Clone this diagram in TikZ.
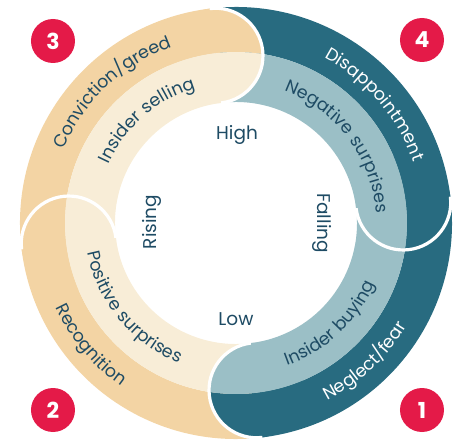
\documentclass[tikz,border=0pt]{standalone}
\usepackage{fontspec}
\setmainfont{Poppins}
\usetikzlibrary{decorations.text}

\definecolor{ochre}{HTML}{F3D4A4}
\definecolor{cream}{HTML}{F8EDD7}
\definecolor{petrol}{HTML}{286B80}
\definecolor{mist}{HTML}{9BBFC6}
\definecolor{ink}{HTML}{1E4B64}
\definecolor{signal}{HTML}{E41A48}

\newcommand\bandfont{\fontsize{17.5}{17.5}\selectfont\addfontfeature{LetterSpace=2.5}}

% annular sector: colour, from angle, to angle, inner radius, outer radius (pt)
\newcommand\ringband[5]{%
  \fill[#1] ({#2}:#5pt) arc[start angle={#2}, end angle={#3}, radius=#5pt]
    -- ({#3}:#4pt) arc[start angle={#3}, end angle={#2}, radius=#4pt] -- cycle;}

% one quarter of the cycle, running 90 degrees clockwise from #3
\newcommand\ringsegment[3]{%
  \ringband{#1}{#3}{#3-90}{171}{216}%
  \ringband{#2}{#3}{#3-90}{121}{171}}

% rounded leading end of a segment, sitting on the start of the next one
\newcommand\segmenthead[3]{%
  \begin{scope}
    \clip (#3:168.5pt) circle[radius=47.5pt];
    \ringband{#1}{#3+30}{#3-30}{171}{218}%
    \ringband{#2}{#3+30}{#3-30}{118}{171}%
  \end{scope}
  \draw[white, line width=3.2pt] (#3:168.5pt) ++(#3:47.5pt)
    arc[start angle=#3, end angle=#3-180, radius=47.5pt];}

% curved labels: upper half reads clockwise, lower half anticlockwise
\newcommand\toptext[4]{%
  \path[decorate, decoration={text along path, text align=center,
      text color=#1, text={|\bandfont|#4}}]
    ({#2+60}:#3pt) arc[start angle={#2+60}, end angle={#2-60}, radius=#3pt];}
\newcommand\bottomtext[4]{%
  \path[decorate, decoration={text along path, text align=center,
      text color=#1, text={|\bandfont|#4}}]
    ({#2-60}:#3pt) arc[start angle={#2-60}, end angle={#2+60}, radius=#3pt];}

\tikzset{
  badge/.style={circle, fill=signal, text=white, minimum size=44pt, inner sep=0pt,
    font=\fontsize{22}{22}\selectfont\bfseries},
  midlabel/.style={text=ink, inner sep=0pt, font=\fontsize{18.5}{18.5}\selectfont},
}

\begin{document}
\begin{tikzpicture}
\useasboundingbox (-236pt,-219pt) rectangle (225pt,223pt);

% bodies of the four segments
\ringsegment{petrol}{mist}{97}   % 4
\ringsegment{petrol}{mist}{7}    % 1
\ringsegment{ochre}{cream}{-83}  % 2
\ringsegment{ochre}{cream}{187}  % 3

% rounded heads
\segmenthead{petrol}{mist}{7}
\segmenthead{petrol}{mist}{-83}
\segmenthead{ochre}{cream}{187}
\segmenthead{ochre}{cream}{97}

% band labels
\toptext{ink}{133.5}{187.5}{Conviction/greed}
\toptext{ink}{131}{140.5}{Insider selling}
\toptext{white}{40.5}{187.5}{Disappointment}
\toptext{ink}{37}{140.5}{Negative surprises}
\bottomtext{white}{-47}{199.5}{Neglect/fear}
\bottomtext{ink}{-47}{151.5}{Insider buying}
\bottomtext{ink}{220}{199.5}{Recognition}
\bottomtext{ink}{219.5}{151.5}{Positive surprises}

% inner labels
\node[midlabel, anchor=base] (high) at (1pt,83pt) {High};
\node[midlabel, anchor=base] (low) at (0pt,-102pt) {Low};
\node[midlabel, anchor=base, rotate=90] (rising) at (-79pt,1pt) {Rising};
\node[midlabel, anchor=base, rotate=-90] (falling) at (82pt,0pt) {Falling};

% stage numbers
\node[badge] (n1) at (186pt,-187pt) {1};
\node[badge] (n2) at (-183pt,-187pt) {2};
\node[badge] (n3) at (-183pt,182pt) {3};
\node[badge] (n4) at (186pt,183pt) {4};
\end{tikzpicture}
\end{document}
